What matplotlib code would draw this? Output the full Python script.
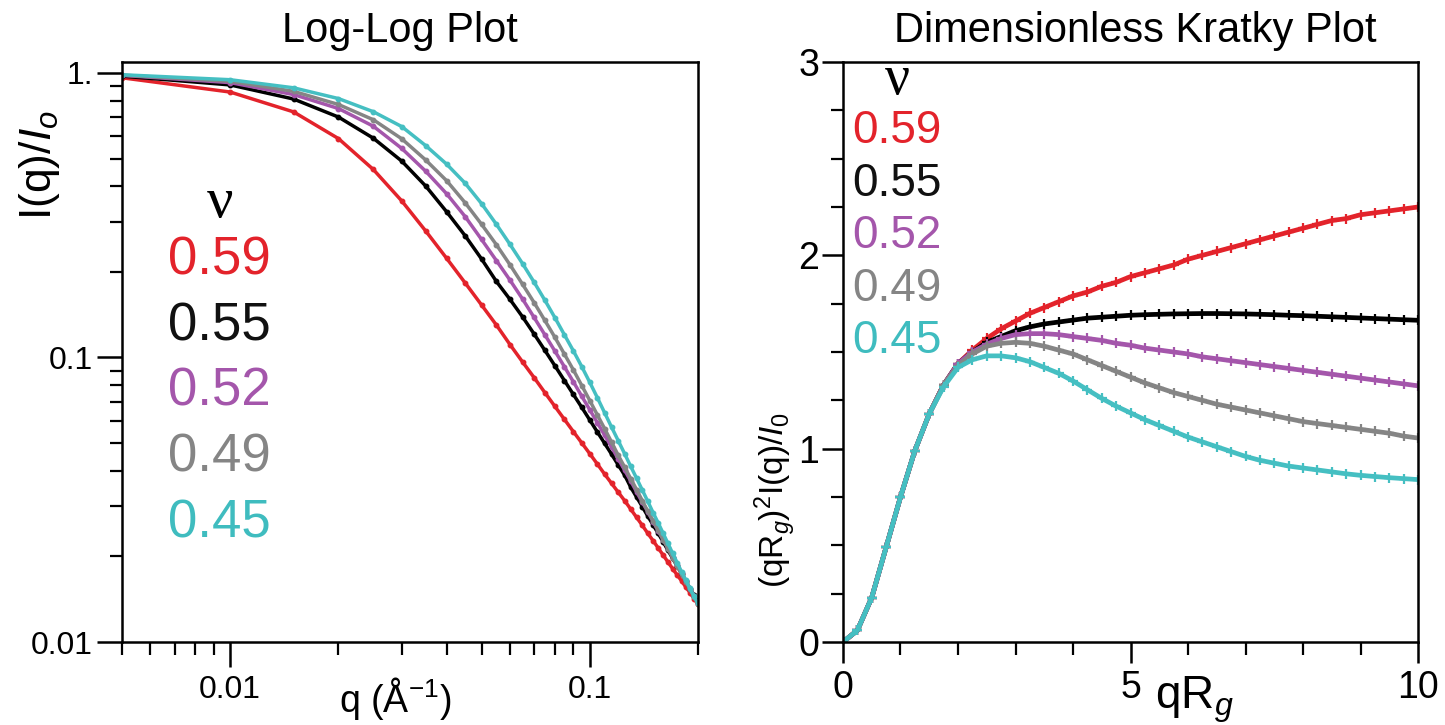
import matplotlib
matplotlib.use('Agg')
import matplotlib.pyplot as plt
from matplotlib.ticker import MultipleLocator, NullFormatter, LogLocator

plt.rcParams['font.family'] = ['Liberation Sans', 'DejaVu Sans']
plt.rcParams['mathtext.fontset'] = 'custom'
plt.rcParams['mathtext.rm'] = 'Liberation Sans'
plt.rcParams['mathtext.it'] = 'Liberation Sans:italic'

# legend labels (Flory exponent) and colours
nu_labels = ['0.59', '0.55', '0.52', '0.49', '0.45']
line_colors = ['#e3232b', '#000000', '#a456ab', '#858585', '#45bfc2']
text_colors = ['#e3232b', '#111111', '#a456ab', '#858585', '#3fbcbf']

# log-log plot: q (1/A) and I(q)/Io for each nu
q_vals = [0.005, 0.01, 0.015, 0.02, 0.025, 0.03, 0.035, 0.04, 0.045, 0.05,
          0.055, 0.06, 0.065, 0.07, 0.075, 0.08, 0.085, 0.09, 0.095, 0.1,
          0.105, 0.11, 0.115, 0.12, 0.125, 0.13, 0.135, 0.14, 0.145, 0.15,
          0.155, 0.16, 0.165, 0.17, 0.175, 0.18, 0.185, 0.19, 0.195, 0.2]
i_059 = [0.962, 0.857, 0.730, 0.588, 0.458, 0.355, 0.278, 0.223, 0.183, 0.153,
         0.130, 0.111, 0.0965, 0.0850, 0.0753, 0.0673, 0.0606, 0.0549, 0.0501, 0.0459,
         0.0422, 0.0389, 0.0361, 0.0336, 0.0314, 0.0293, 0.0274, 0.0257, 0.0241, 0.0227,
         0.0214, 0.0202, 0.0191, 0.0181, 0.0172, 0.0164, 0.0156, 0.0149, 0.0142, 0.0136]
i_055 = [0.975, 0.908, 0.810, 0.700, 0.590, 0.490, 0.400, 0.325, 0.268, 0.222,
         0.185, 0.160, 0.139, 0.121, 0.106, 0.0935, 0.0830, 0.0742, 0.0668, 0.0603,
         0.0547, 0.0499, 0.0457, 0.0419, 0.0386, 0.0350, 0.0323, 0.0299, 0.0277, 0.0258,
         0.0241, 0.0225, 0.0210, 0.0197, 0.0185, 0.0174, 0.0164, 0.0154, 0.0146, 0.0138]
i_052 = [0.981, 0.925, 0.840, 0.750, 0.650, 0.543, 0.451, 0.376, 0.313, 0.260,
         0.219, 0.187, 0.1606, 0.1383, 0.1202, 0.1053, 0.0928, 0.0822, 0.0731, 0.0655,
         0.0590, 0.0533, 0.0484, 0.0440, 0.0402, 0.0368, 0.0337, 0.0310, 0.0287, 0.0265,
         0.0246, 0.0229, 0.0214, 0.0199, 0.0186, 0.0175, 0.0164, 0.0154, 0.0145, 0.0137]
i_049 = [0.983, 0.935, 0.862, 0.775, 0.685, 0.587, 0.494, 0.418, 0.350, 0.294,
         0.249, 0.2117, 0.181, 0.156, 0.135, 0.1177, 0.1028, 0.0905, 0.0797, 0.0706,
         0.0628, 0.0562, 0.0504, 0.0453, 0.0412, 0.0375, 0.0343, 0.0314, 0.0288, 0.0267,
         0.0247, 0.0229, 0.0213, 0.0198, 0.0185, 0.0173, 0.0163, 0.0153, 0.0144, 0.0136]
i_045 = [0.986, 0.947, 0.887, 0.813, 0.731, 0.648, 0.555, 0.478, 0.410, 0.3475,
         0.2937, 0.2498, 0.2139, 0.184, 0.159, 0.138, 0.1202, 0.1056, 0.0929, 0.0818,
         0.0722, 0.0639, 0.0569, 0.0510, 0.0459, 0.0414, 0.0376, 0.0342, 0.0312, 0.0285,
         0.0262, 0.0241, 0.0222, 0.0205, 0.0190, 0.01765, 0.01648, 0.01542, 0.01449, 0.01366]

# dimensionless Kratky plot: qRg and (qRg)^2 I(q)/I0 for each nu
qrg_vals = [0, 0.25, 0.5, 0.75, 1.0, 1.25, 1.5, 1.75, 2.0, 2.25,
            2.5, 2.75, 3.0, 3.25, 3.5, 3.75, 4.0, 4.25, 4.5, 4.75,
            5.0, 5.25, 5.5, 5.75, 6.0, 6.25, 6.5, 6.75, 7.0, 7.25,
            7.5, 7.75, 8.0, 8.25, 8.5, 8.75, 9.0, 9.25, 9.5, 9.75, 10.0]
k_059 = [0, 0.06, 0.23, 0.49, 0.75, 0.99, 1.18, 1.33, 1.44, 1.51,
         1.57, 1.62, 1.66, 1.70, 1.73, 1.76, 1.79, 1.81, 1.84, 1.86,
         1.89, 1.91, 1.93, 1.95, 1.98, 2.00, 2.02, 2.04, 2.06, 2.08,
         2.10, 2.12, 2.14, 2.16, 2.18, 2.19, 2.21, 2.22, 2.23, 2.24, 2.25]
k_055 = [0, 0.06, 0.23, 0.49, 0.75, 0.99, 1.18, 1.33, 1.44, 1.50,
         1.55, 1.58, 1.61, 1.63, 1.645, 1.655, 1.665, 1.675, 1.68, 1.685,
         1.69, 1.693, 1.695, 1.697, 1.698, 1.699, 1.699, 1.698, 1.697, 1.695,
         1.693, 1.69, 1.688, 1.685, 1.682, 1.679, 1.676, 1.673, 1.67, 1.667, 1.664]
k_052 = [0, 0.06, 0.23, 0.49, 0.75, 0.99, 1.18, 1.33, 1.44, 1.50,
         1.54, 1.57, 1.59, 1.595, 1.595, 1.59, 1.58, 1.57, 1.56, 1.545,
         1.535, 1.52, 1.51, 1.50, 1.49, 1.475, 1.465, 1.455, 1.445, 1.435,
         1.425, 1.415, 1.405, 1.395, 1.385, 1.375, 1.365, 1.355, 1.345, 1.335, 1.325]
k_049 = [0, 0.06, 0.23, 0.49, 0.75, 0.99, 1.18, 1.33, 1.43, 1.49,
         1.53, 1.545, 1.55, 1.545, 1.53, 1.51, 1.49, 1.46, 1.43, 1.40,
         1.37, 1.34, 1.315, 1.29, 1.27, 1.25, 1.23, 1.215, 1.20, 1.185,
         1.17, 1.155, 1.14, 1.13, 1.12, 1.11, 1.10, 1.09, 1.08, 1.065, 1.055]
k_045 = [0, 0.06, 0.23, 0.49, 0.75, 0.99, 1.18, 1.32, 1.42, 1.46,
         1.48, 1.48, 1.47, 1.45, 1.42, 1.39, 1.35, 1.305, 1.26, 1.22,
         1.185, 1.15, 1.12, 1.09, 1.06, 1.035, 1.01, 0.985, 0.96, 0.94,
         0.925, 0.91, 0.90, 0.89, 0.88, 0.87, 0.862, 0.856, 0.85, 0.845, 0.84]

loglog_sets = [i_059, i_055, i_052, i_049, i_045]
kratky_sets = [k_059, k_055, k_052, k_049, k_045]

W, H = 1445, 725


def fx(px):
    return px / W


def fy(py):
    return 1 - py / H


fig = plt.figure(figsize=(W / 100, H / 100), dpi=100)
ax1 = fig.add_axes([fx(122), fy(642), (698 - 122) / W, (642 - 62) / H])
ax2 = fig.add_axes([fx(843), fy(642), (1418 - 843) / W, (642 - 62) / H])

# ---- left: log-log plot
for ys, c in zip(loglog_sets, line_colors):
    ax1.plot(q_vals, ys, color=c, lw=2.5, marker='o', ms=3.2, mec=c, mfc=c)
ax1.set_xscale('log')
ax1.set_yscale('log')
ax1.set_xlim(0.005, 0.2)
ax1.set_ylim(0.01, 1.093)
ax1.set_xticks([0.01, 0.1], ['0.01', '0.1'])
ax1.set_yticks([0.01, 0.1, 1], ['0.01', '0.1', '1.'])
ax1.xaxis.set_minor_locator(LogLocator(base=10, subs=range(2, 10)))
ax1.yaxis.set_minor_locator(LogLocator(base=10, subs=range(2, 10)))
ax1.xaxis.set_minor_formatter(NullFormatter())
ax1.yaxis.set_minor_formatter(NullFormatter())

# ---- right: dimensionless Kratky plot
for ys, c in zip(kratky_sets, line_colors):
    ax2.plot(qrg_vals, ys, color=c, lw=3.4, marker='+', ms=7, mew=1.6)
ax2.set_xlim(0, 10)
ax2.set_ylim(0, 3)
ax2.set_xticks([0, 5, 10], ['0', '5', '10'])
ax2.set_yticks([0, 1, 2, 3], ['0', '1', '2', '3'])
ax2.xaxis.set_minor_locator(MultipleLocator(1))
ax2.yaxis.set_minor_locator(MultipleLocator(0.25))

for ax in (ax1, ax2):
    for sp in ax.spines.values():
        sp.set_linewidth(1.8)
    ax.tick_params(which='minor', direction='out', length=9, width=1.6)
ax1.tick_params(which='major', direction='out', length=18, width=1.8,
                labelsize=23, pad=3)
ax1.tick_params(axis='x', which='major', pad=6)
ax2.tick_params(which='major', direction='out', length=15, width=1.8,
                labelsize=27, pad=2)
ax2.tick_params(axis='x', which='major', pad=5)

# titles
fig.text(fx(400), fy(31), 'Log-Log Plot', fontsize=30, ha='center', va='center')
fig.text(fx(1135), fy(31), 'Dimensionless Kratky Plot', fontsize=30,
         ha='center', va='center')

# axis labels
fig.text(fx(40), fy(165), r'I(q)/$\mathit{I_o}$', fontsize=32, rotation=90,
         ha='center', va='center')
fig.text(fx(395), fy(698), r'q (Å$^{-1}$)', fontsize=27, ha='center', va='center')
fig.text(fx(775), fy(500), r'(qR$_{\mathit{g}}$)$^2$I(q)/$I_0$', fontsize=24,
         rotation=90, ha='center', va='center')
fig.text(fx(1194), fy(700), r'qR$_{\mathit{g}}$', fontsize=33, ha='center', va='center')

# nu legends
fig.text(fx(220), fy(203), 'ν', fontsize=42, family=['Liberation Serif', 'DejaVu Serif'],
         ha='center', va='center')
for k, (lab, c) in enumerate(zip(nu_labels, text_colors)):
    fig.text(fx(168), fy(260 + 66 * k), lab, fontsize=38, color=c,
             ha='left', va='center')

fig.text(fx(897), fy(80), 'ν', fontsize=40, family=['Liberation Serif', 'DejaVu Serif'],
         ha='center', va='center')
for k, (lab, c) in enumerate(zip(nu_labels, text_colors)):
    fig.text(fx(852), fy(131 + 52.5 * k), lab, fontsize=33, color=c,
             ha='left', va='center')

fig.savefig('out.png', dpi=100)
